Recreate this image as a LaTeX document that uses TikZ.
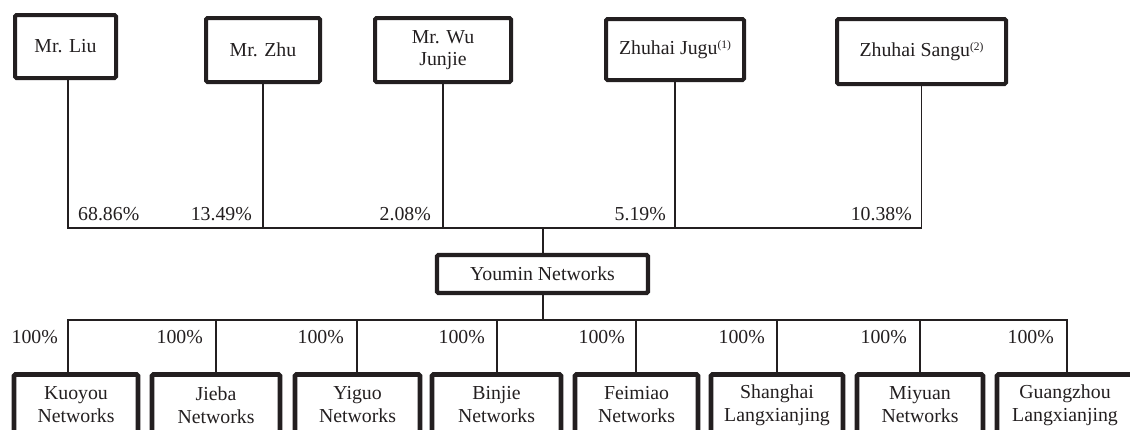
\documentclass[tikz,border=0pt]{standalone}
\usepackage{fontspec}
\setmainfont{Liberation Serif}
\definecolor{ink}{HTML}{231F20}
\newcommand{\fnmark}[1]{\raisebox{5.5pt}{\fontsize{11.5}{11.5}\selectfont(#1)}}
\tikzset{
  box/.style={draw=ink, text=ink, line width=4pt, rounded corners=1.5pt, align=center, inner sep=0pt,
    font=\fontsize{19.8}{22}\selectfont},
  kid/.style={box, line width=4.8pt, minimum height=61pt, anchor=north, font=\fontsize{19.8}{23}\selectfont},
  conn/.style={draw=ink, line width=1.8pt},
  pct/.style={text=ink, inner sep=0pt, font=\fontsize{19.8}{23.5}\selectfont}
}
\begin{document}
\begin{tikzpicture}[x=1pt,y=-1pt]
\useasboundingbox (0,0) rectangle (1130,429);
\clip (0,0) rectangle (1130,429);
\fill[white] (0,0) rectangle (1130,429);
% shareholders
\node[box, minimum width=101pt, minimum height=63pt] (liu) at (65.5,46.5) {Mr. Liu};
\node[box, minimum width=114pt, minimum height=64pt] (zhu) at (263,50) {Mr. Zhu};
\node[box, minimum width=136pt, minimum height=64pt] (wu) at (443,50) {Mr. Wu\\Junjie};
\node[box, minimum width=138pt, minimum height=61pt] (jugu) at (675,49.5) {Zhuhai Jugu\fnmark{1}};
\node[box, minimum width=169pt, minimum height=65pt] (sangu) at (921.5,51.5) {Zhuhai Sangu\fnmark{2}};
% company
\node[box, line width=4.4pt, minimum width=211pt, minimum height=38pt] (youmin) at (542.5,274) {Youmin Networks};
% subsidiaries
\node[kid, minimum width=124pt] (kuoyou) at (76,372) {Kuoyou\\Networks};
\node[kid, minimum width=128pt] (jieba) at (216,372) {Jieba\\Networks};
\node[kid, minimum width=125pt] (yiguo) at (357.5,372) {Yiguo\\Networks};
\node[kid, minimum width=129pt] (binjie) at (496.5,372) {Binjie\\Networks};
\node[kid, minimum width=123pt] (feimiao) at (636.5,372) {Feimiao\\Networks};
\node[kid, minimum width=132pt] (shanghai) at (777,372) {Shanghai\\Langxianjing};
\node[kid, minimum width=126pt] (miyuan) at (920,372) {Miyuan\\Networks};
\node[kid, minimum width=136pt] (guangzhou) at (1065,372) {Guangzhou\\Langxianjing};
% junction coordinates
\coordinate (up) at (543,228);
\coordinate (dn) at (543,320);
\coordinate (tliu) at (68,228);
\coordinate (dkuo) at (68,320);
\coordinate (dgua) at (1067,320);
% upper connectors
\draw[conn] (liu.south -| tliu) -- (tliu) -- (sangu.south |- up) -- (sangu.south);
\draw[conn] (zhu.south) -- (zhu.south |- up);
\draw[conn] (wu.south) -- (wu.south |- up);
\draw[conn] (jugu.south) -- (jugu.south |- up);
\draw[conn] (up) -- (youmin.north -| up);
% lower connectors
\draw[conn] (youmin.south -| dn) -- (dn);
\draw[conn] (dkuo |- kuoyou.north) -- (dkuo) -- (dgua) -- (dgua |- guangzhou.north);
\foreach \k/\x in {jieba/216, yiguo/357, binjie/497, feimiao/636, shanghai/777, miyuan/920}{
  \draw[conn] (\x,320) -- (\x,320 |- \k.north);
}
% percentages
\node[pct, anchor=base west] (p1) at (78,220) {68.86\%};
\node[pct, anchor=base east] (p2) at (252,220) {13.49\%};
\node[pct, anchor=base east] (p3) at (431,220) {2.08\%};
\node[pct, anchor=base east] (p4) at (666,220) {5.19\%};
\node[pct, anchor=base east] (p5) at (912,220) {10.38\%};
\foreach \n/\x in {1/58, 2/203, 3/344, 4/485, 5/625, 6/765, 7/907, 8/1054}{
  \node[pct, anchor=base east] (h\n) at (\x,343) {100\%};
}
\end{tikzpicture}
\end{document}
